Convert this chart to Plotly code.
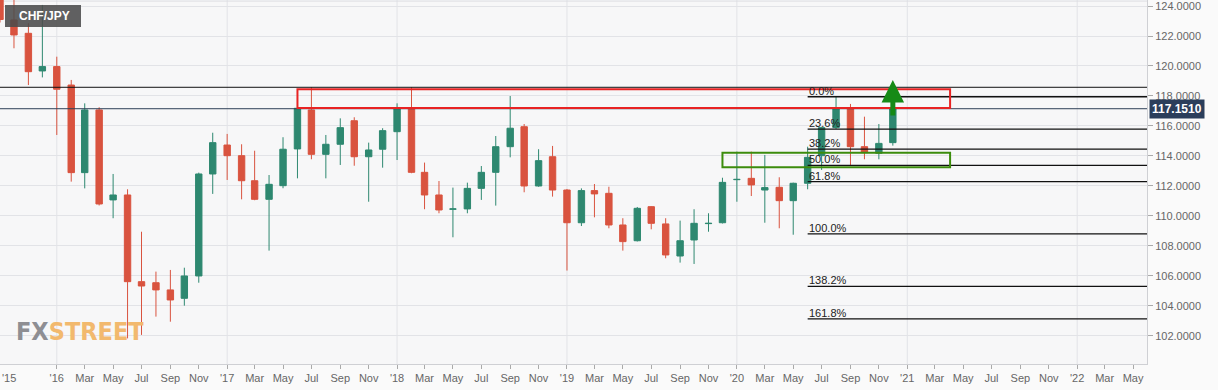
import plotly.graph_objects as go
import pandas as pd

# ---------------- data ----------------
months = pd.date_range("2015-09-01", "2020-12-01", freq="MS")

opens = [125.6, 123.07, 122.18, 119.67, 119.96, 118.73, 112.89, 117.07, 111.07, 111.40,
         105.62, 105.55, 105.07, 104.51, 106.00, 112.80, 114.73, 114.02, 112.35, 111.11,
         112.02, 114.47, 117.07, 114.11, 114.78, 116.35, 113.95, 114.45, 115.62, 117.18,
         112.91, 111.40, 110.45, 110.47, 111.84, 112.91, 114.62, 115.95, 112.00, 113.95,
         111.73, 109.55, 111.69, 111.51, 109.40, 108.35, 110.62, 109.47, 107.33, 108.40,
         109.49, 109.55, 112.42, 112.51, 111.73, 111.91, 111.02, 112.18, 114.02, 115.89,
         117.18, 114.62, 114.18, 114.89]
highs = [126.0, 124.5, 122.85, 124.07, 120.62, 119.07, 117.51, 117.25, 112.80, 111.78,
         108.95, 106.29, 106.40, 106.55, 112.89, 115.55, 115.47, 114.78, 114.35, 112.73,
         115.25, 117.20, 118.58, 115.40, 116.51, 116.58, 114.89, 115.85, 117.51, 118.58,
         113.56, 112.33, 111.89, 112.22, 113.33, 115.33, 118.00, 116.13, 114.45, 114.67,
         111.80, 111.84, 112.13, 111.95, 109.85, 110.60, 110.65, 109.85, 109.69, 110.45,
         110.18, 112.55, 114.29, 114.29, 114.07, 112.58, 112.22, 114.62, 115.95, 117.95,
         117.47, 116.62, 116.13, 117.30]
lows = [122.9, 121.18, 118.73, 119.24, 115.40, 112.29, 111.84, 110.70, 109.85, 101.84,
        102.07, 103.29, 102.95, 104.02, 105.55, 111.47, 112.40, 111.11, 111.05, 107.69,
        111.85, 112.51, 113.78, 112.51, 113.40, 113.35, 110.95, 113.22, 113.73, 112.85,
        110.45, 110.18, 108.58, 110.18, 111.07, 110.69, 113.91, 111.58, 111.95, 111.29,
        106.36, 109.33, 109.91, 109.18, 107.69, 108.30, 109.11, 107.18, 106.89, 106.80,
        108.95, 109.50, 110.95, 111.33, 109.55, 109.18, 108.75, 111.78, 113.07, 115.80,
        113.40, 113.78, 113.78, 114.69]
closes = [123.1, 122.07, 119.62, 119.96, 118.45, 112.89, 117.07, 110.80, 111.40, 105.62,
          105.33, 105.07, 104.40, 106.00, 112.80, 114.89, 114.02, 112.35, 111.11, 112.11,
          114.45, 117.18, 114.11, 114.78, 115.89, 113.95, 114.40, 115.69, 117.18, 112.91,
          111.40, 110.40, 110.47, 111.84, 112.91, 114.62, 115.85, 112.00, 113.69, 111.73,
          109.55, 111.69, 111.47, 109.40, 108.29, 110.51, 109.51, 107.40, 108.35, 109.51,
          109.51, 112.24, 112.44, 112.07, 111.89, 111.02, 112.18, 113.91, 115.89, 117.18,
          114.62, 114.22, 114.84, 117.151]

last_price = 117.151
resistance_top = 118.58

fib_high = 117.95
fib_low = 108.80
fib_ratios = [0.0, 0.236, 0.382, 0.5, 0.618, 1.0, 1.382, 1.618]
fib_labels = ["0.0%", "23.6%", "38.2%", "50.0%", "61.8%", "100.0%", "138.2%", "161.8%"]
fib_start = "2020-06-01"

red_zone = dict(x0="2017-06-01", x1="2021-04-03", y0=117.20, y1=118.45)
green_zone = dict(x0="2019-12-01", x1="2021-04-03", y0=113.25, y1=114.22)

arrow_date = "2020-12-01"
arrow_tip = 119.07

y_ticks = [102, 104, 106, 108, 110, 112, 114, 116, 118, 120, 122, 124]
x_tick_dates = pd.date_range("2016-01-01", "2022-05-01", freq="2MS")
x_tick_text = [("'" + d.strftime("%y")) if d.month == 1 else d.strftime("%b") for d in x_tick_dates]
year_lines = pd.date_range("2016-01-01", "2022-01-01", freq="YS")

x_range = ["2015-09-01", "2022-05-31"]
y_range = [100.13, 124.4]

# ---------------- styling ----------------
GREEN = "#2e8870"
RED = "#d9533f"
GRID = "#e2e3e7"
FONT = "Arial, Liberation Sans, sans-serif"
PW, PH = 1147, 364  # plot area pixels

fig = go.Figure()
fig.add_trace(go.Candlestick(
    x=months, open=opens, high=highs, low=lows, close=closes,
    increasing=dict(line=dict(color=GREEN, width=1), fillcolor=GREEN),
    decreasing=dict(line=dict(color=RED, width=1), fillcolor=RED),
    whiskerwidth=0, showlegend=False, hoverinfo="skip",
))

shapes = []
for d in year_lines:
    shapes.append(dict(type="line", xref="x", yref="paper", x0=d, x1=d, y0=0, y1=1,
                       line=dict(color=GRID, width=1), layer="below"))
shapes.append(dict(type="line", xref="paper", yref="paper", x0=0, x1=1, y0=0.997, y1=0.997,
                   line=dict(color="#dcdde2", width=1), layer="below"))
shapes.append(dict(type="line", xref="paper", yref="y", x0=0, x1=1, y0=resistance_top, y1=resistance_top,
                   line=dict(color="#111111", width=1)))
shapes.append(dict(type="line", xref="paper", yref="y", x0=0, x1=1, y0=last_price, y1=last_price,
                   line=dict(color="#2e3f57", width=1)))
fib_levels = [fib_high - r * (fib_high - fib_low) for r in fib_ratios]
for lv in fib_levels:
    shapes.append(dict(type="line", xref="x", yref="y", x0=fib_start, x1=x_range[1], y0=lv, y1=lv,
                       line=dict(color="#111111", width=1.3)))
shapes.append(dict(type="rect", xref="x", yref="y", **red_zone,
                   line=dict(color="#e82323", width=2), fillcolor="rgba(0,0,0,0)"))
shapes.append(dict(type="rect", xref="x", yref="y", **green_zone,
                   line=dict(color="#3c8c0c", width=2), fillcolor="rgba(0,0,0,0)"))
shapes.append(dict(type="rect", xref="paper", yref="paper", x0=5 / PW, x1=81 / PW,
                   y0=1 - 27 / PH, y1=1 - 5 / PH, line=dict(width=0),
                   fillcolor="rgba(75,75,75,0.88)"))

annotations = []
for lv, lab in zip(fib_levels, fib_labels):
    annotations.append(dict(x=fib_start, y=lv, xref="x", yref="y", text=lab, showarrow=False,
                            xanchor="left", yanchor="bottom", xshift=-1, yshift=-2,
                            font=dict(family=FONT, size=11, color="#222222")))
annotations.append(dict(x=17 / PW, y=1 - 16 / PH, xref="paper", yref="paper",
                        text="<b>CHF/JPY</b>", showarrow=False, xanchor="left", yanchor="middle",
                        font=dict(family=FONT, size=12, color="#ffffff")))
annotations.append(dict(x=1, y=last_price, xref="paper", yref="y", text="<b>117.1510</b>",
                        showarrow=False, xanchor="left", yanchor="middle", xshift=2,
                        bgcolor="#2b3e5b", borderpad=2,
                        font=dict(family=FONT, size=12, color="#ffffff")))
annotations.append(dict(x=arrow_date, y=arrow_tip, xref="x", yref="y", ax=0, ay=37,
                        showarrow=True, arrowhead=2, arrowsize=0.9, arrowwidth=5,
                        arrowcolor="#168a16", text=""))
annotations.append(dict(x=0, y=0, xref="paper", yref="paper", text="'15", showarrow=False,
                        xanchor="left", yanchor="top", yshift=-6,
                        font=dict(family=FONT, size=11, color="#666666")))
annotations.append(dict(x=14 / PW, y=1 - 331 / PH, xref="paper", yref="paper",
                        text="<b><span style='color:#8e8e93'>FX</span><span style='color:#f2b96e'>STREET</span></b>",
                        showarrow=False, xanchor="left", yanchor="middle",
                        font=dict(family="Liberation Sans Narrow, DejaVu Sans Condensed, Arial, sans-serif",
                                  size=25, color="#999")))

fig.update_layout(
    width=1218, height=390,
    margin=dict(l=0, r=1218 - PW, t=0, b=390 - PH),
    paper_bgcolor="#fafafa", plot_bgcolor="#f7f7f8",
    shapes=shapes, annotations=annotations,
    xaxis=dict(type="date", range=x_range, rangeslider=dict(visible=False),
               tickvals=x_tick_dates, ticktext=x_tick_text, showgrid=False,
               ticks="outside", ticklen=4, tickcolor="#aaaaaa",
               showline=True, linecolor="#cfd0d4", linewidth=1,
               tickfont=dict(family=FONT, size=11, color="#666666")),
    yaxis=dict(side="right", range=y_range, tickvals=y_ticks, tickformat=".4f",
               showgrid=True, gridcolor=GRID, gridwidth=1, zeroline=False,
               ticks="outside", ticklen=5, tickcolor="#aaaaaa",
               showline=True, linecolor="#cfd0d4", linewidth=1,
               ticklabeloverflow="allow",
               tickfont=dict(family=FONT, size=11, color="#666666")),
    font=dict(family=FONT),
)

fig.write_html("out.html", config={"displayModeBar": False},
               post_script="document.body.style.margin='0';document.body.style.padding='0';")
